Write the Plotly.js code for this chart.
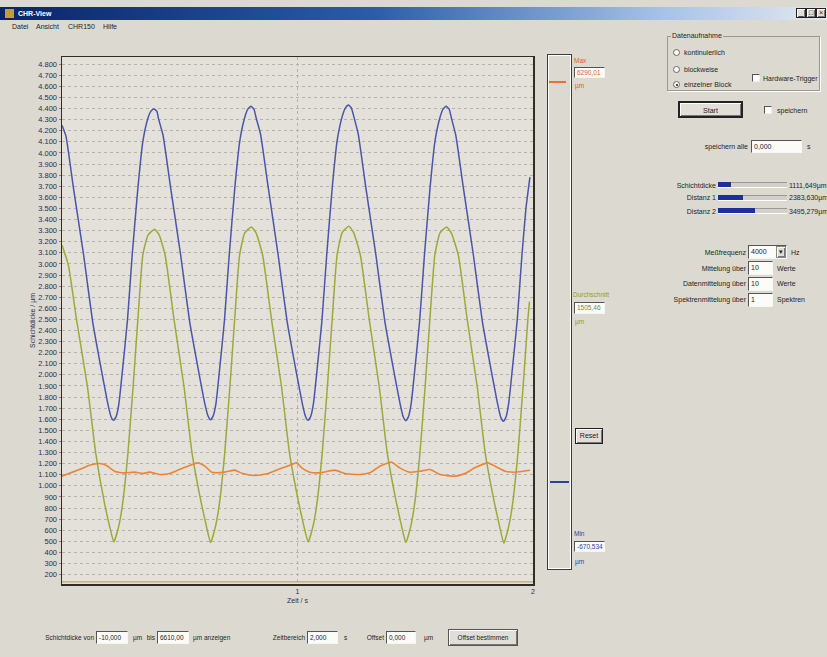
<!DOCTYPE html>
<html><head><meta charset="utf-8">
<script src="https://cdn.plot.ly/plotly-3.0.1.min.js"></script>
<style>
body{margin:0;width:827px;height:657px;overflow:hidden;background:#dcdad0;position:relative;font-family:'Liberation Sans',Arial,sans-serif;}
#chart{position:absolute;left:0;top:0;width:827px;height:657px;}
.ov{position:absolute;font-size:7px;color:#1e1e1e;white-space:nowrap;line-height:1;z-index:5}
.r{text-align:right}
.inp{position:absolute;background:#fbfbf8;border-top:1px solid #555;border-left:1px solid #555;border-right:1px solid #f6f6f6;border-bottom:1px solid #f6f6f6;font-size:7px;line-height:11px;padding-left:2px;box-sizing:border-box;color:#223;z-index:5;white-space:nowrap;overflow:hidden}
.btn{position:absolute;background:#e0ded6;border:1px solid #222;box-shadow:inset 1px 1px #fff,inset -1px -1px #777;font-size:7px;text-align:center;box-sizing:border-box;z-index:5;color:#222}
.rad{position:absolute;width:7px;height:7px;border-radius:50%;background:#fff;border:1px solid #666;box-sizing:border-box;z-index:5}
.chk{position:absolute;width:8px;height:8px;background:#fff;border-top:1px solid #555;border-left:1px solid #555;border-right:1px solid #eee;border-bottom:1px solid #eee;box-sizing:border-box;z-index:5}
.trk{position:absolute;height:6px;background:#d2d0c8;border-top:1px solid #999;border-bottom:1px solid #fff;box-sizing:border-box;z-index:5}
.fill{position:absolute;height:5px;background:#1c2f9c;z-index:6}
.bt{font-size:6.5px}
</style></head>
<body>
<div id="chart"></div>

<!-- title bar and menu -->
<div style="position:absolute;left:0;top:7px;width:827px;height:13px;background:linear-gradient(to right,#0a246a,#2a5ca8 45%,#a6c2e8 80%,#e4e8ef);z-index:4"></div>
<div style="position:absolute;left:5px;top:9px;width:9px;height:9px;background:#c89a3c;z-index:5"></div>
<div class="ov" style="left:18px;top:10px;color:#fff;font-weight:bold">CHR-View</div>
<div class="btn" style="left:796px;top:8px;width:10px;height:10px;line-height:7px">_</div>
<div class="btn" style="left:806px;top:8px;width:10px;height:10px;line-height:8px">□</div>
<div class="btn" style="left:816px;top:8px;width:10px;height:10px;line-height:8px">×</div>
<div class="ov" style="left:12px;top:23px">Datei</div>
<div class="ov" style="left:36px;top:23px">Ansicht</div>
<div class="ov" style="left:68px;top:23px">CHR150</div>
<div class="ov" style="left:103px;top:23px">Hilfe</div>

<!-- vertical indicator -->
<div style="position:absolute;left:547px;top:54px;width:25px;height:516px;border:1px solid #3c3c3c;box-shadow:inset 1px 1px #fff,inset -1px -1px #fff;box-sizing:border-box;z-index:5"></div>
<div style="position:absolute;left:549px;top:81px;width:17px;height:2px;background:#e8702a;z-index:6"></div>
<div style="position:absolute;left:550px;top:481px;width:19px;height:1.5px;background:#3040a0;z-index:6"></div>
<div class="ov" style="left:574px;top:58px;color:#e06020;font-size:6.5px">Max</div>
<div class="inp" style="left:574px;top:67px;width:31px;height:11px;color:#e06020;font-size:6.5px;line-height:9px">6290,01</div>
<div class="ov" style="left:575px;top:83px;color:#e06020;font-size:6.5px">µm</div>
<div class="ov" style="left:573px;top:292px;color:#8aa020;font-size:6.5px">Durchschnitt</div>
<div class="inp" style="left:574px;top:302px;width:31px;height:12px;color:#6a8a50;font-size:6.5px;line-height:10px">1505,46</div>
<div class="ov" style="left:575px;top:319px;color:#8aa020;font-size:6.5px">µm</div>
<div class="btn" style="left:575px;top:428px;width:28px;height:16px;line-height:14px">Reset</div>
<div class="ov" style="left:574px;top:531px;color:#3040a0;font-size:6.5px">Min</div>
<div class="inp" style="left:574px;top:541px;width:31px;height:11px;color:#3040a0;font-size:6.5px;line-height:9px">-670,534</div>
<div class="ov" style="left:575px;top:559px;color:#3040a0;font-size:6.5px">µm</div>

<!-- Datenaufnahme group -->
<div style="position:absolute;left:667px;top:36px;width:153px;height:55px;border:1px solid #9a9890;box-shadow:1px 1px 0 #fff;box-sizing:border-box;z-index:4"></div>
<div class="ov" style="left:671px;top:32px;background:#dcdad0;padding:0 1px">Datenaufnahme</div>
<div class="rad" style="left:673px;top:49px"></div>
<div class="ov" style="left:684px;top:49px">kontinuierlich</div>
<div class="rad" style="left:673px;top:66px"></div>
<div class="ov" style="left:684px;top:66px">blockweise</div>
<div class="rad" style="left:673px;top:81px"><div style="position:absolute;left:1.5px;top:1.5px;width:2px;height:2px;border-radius:50%;background:#111"></div></div>
<div class="ov" style="left:684px;top:81px">einzelner Block</div>
<div class="chk" style="left:752px;top:74px"></div>
<div class="ov" style="left:763px;top:74.5px">Hardware-Trigger</div>

<div class="btn" style="left:678px;top:101px;width:65px;height:17px;line-height:15px;border:2px solid #222">Start</div>
<div class="chk" style="left:764px;top:106px"></div>
<div class="ov" style="left:777px;top:106.5px">speichern</div>
<div class="ov r" style="left:690px;width:58px;top:143px">speichern alle</div>
<div class="inp" style="left:751px;top:140px;width:51px;height:13px">0,000</div>
<div class="ov" style="left:807px;top:143px">s</div>

<!-- progress bars -->
<div class="ov r" style="left:660px;width:56px;top:181.5px">Schichtdicke</div>
<div class="trk" style="left:718px;top:182px;width:69px"></div>
<div class="fill" style="left:718px;top:182px;width:13px"></div>
<div class="ov" style="left:789px;top:181.5px">1111,649µm</div>
<div class="ov r" style="left:660px;width:56px;top:194px">Distanz 1</div>
<div class="trk" style="left:718px;top:194.5px;width:69px"></div>
<div class="fill" style="left:718px;top:194.5px;width:25px"></div>
<div class="ov" style="left:789px;top:194px">2383,630µm</div>
<div class="ov r" style="left:660px;width:56px;top:207.5px">Distanz 2</div>
<div class="trk" style="left:718px;top:208px;width:69px"></div>
<div class="fill" style="left:718px;top:208px;width:37px"></div>
<div class="ov" style="left:789px;top:207.5px">3495,279µm</div>

<!-- settings -->
<div class="ov r" style="left:660px;width:86px;top:248.5px">Meßfrequenz</div>
<div class="inp" style="left:748px;top:245px;width:39px;height:14px;line-height:12px">4000</div>
<div class="btn" style="left:776px;top:246px;width:10px;height:12px;line-height:10px;border:1px solid #888;font-size:7px">▾</div>
<div class="ov" style="left:791px;top:248.5px">Hz</div>
<div class="ov r" style="left:660px;width:86px;top:264.5px">Mittelung über</div>
<div class="inp" style="left:748px;top:261px;width:25px;height:14px;line-height:12px">10</div>
<div class="ov" style="left:777px;top:264.5px">Werte</div>
<div class="ov r" style="left:660px;width:86px;top:280px">Datenmittelung über</div>
<div class="inp" style="left:748px;top:276.5px;width:25px;height:14px;line-height:12px">10</div>
<div class="ov" style="left:777px;top:280px">Werte</div>
<div class="ov r" style="left:640px;width:106px;top:296px">Spektrenmittelung über</div>
<div class="inp" style="left:748px;top:292.5px;width:25px;height:14px;line-height:12px">1</div>
<div class="ov" style="left:777px;top:296px">Spektren</div>

<!-- bottom row -->
<div class="ov r bt" style="left:20px;width:74px;top:635px">Schichtdicke von</div>
<div class="inp" style="left:96px;top:631px;width:32px;height:13px;font-size:6.5px">-10,000</div>
<div class="ov bt" style="left:133px;top:635px">µm</div>
<div class="ov r bt" style="left:140px;width:15px;top:635px">bis</div>
<div class="inp" style="left:157px;top:631px;width:32px;height:13px;font-size:6.5px">6610,00</div>
<div class="ov bt" style="left:193px;top:635px">µm anzeigen</div>
<div class="ov r bt" style="left:255px;width:50px;top:635px">Zeitbereich</div>
<div class="inp" style="left:307px;top:631px;width:31px;height:13px;font-size:6.5px">2,000</div>
<div class="ov bt" style="left:344px;top:635px">s</div>
<div class="ov r bt" style="left:355px;width:29px;top:635px">Offset</div>
<div class="inp" style="left:386px;top:631px;width:30px;height:13px;font-size:6.5px">0,000</div>
<div class="ov bt" style="left:424px;top:635px">µm</div>
<div class="btn" style="left:448px;top:629px;width:70px;height:17px;line-height:15px;border:1px solid #555;font-size:6.5px">Offset bestimmen</div>

<script>
// Zeit / s
const blueT = [0.000,0.017,0.049,0.092,0.130,0.167,0.194,0.208,0.219,0.230,0.242,0.257,0.278,0.298,0.322,0.343,0.364,0.377,0.390,
0.403,0.410,0.429,0.461,0.504,0.542,0.579,0.606,0.620,0.631,0.642,0.654,0.669,0.690,0.710,0.734,0.755,0.776,0.789,0.802,
0.815,0.824,0.843,0.875,0.918,0.956,0.993,1.020,1.034,1.045,1.056,1.068,1.083,1.104,1.124,1.148,1.169,1.190,1.203,1.216,
1.229,1.239,1.258,1.290,1.333,1.371,1.408,1.435,1.449,1.460,1.471,1.483,1.498,1.519,1.539,1.563,1.584,1.605,1.618,1.631,
1.644,1.653,1.672,1.704,1.747,1.785,1.822,1.849,1.863,1.874,1.885,1.897,1.912,1.933,1.953,1.970,1.987];
const blueV = [4250,4150,3678,3078,2479,2045,1746,1625,1590,1625,1746,2045,2494,3078,3678,4100,4307,4375,4397,
4375,4307,4160,3690,3078,2479,2045,1746,1630,1596,1630,1746,2045,2494,3078,3690,4110,4320,4395,4420,
4395,4320,4170,3700,3078,2479,2045,1746,1625,1590,1625,1746,2045,2494,3078,3700,4120,4330,4405,4432,
4405,4330,4170,3690,3078,2479,2045,1746,1622,1587,1622,1746,2045,2494,3078,3690,4110,4320,4395,4420,
4395,4320,4160,3690,3078,2479,2045,1746,1618,1581,1618,1746,2045,2494,3078,3500,3782];

const greenT = [0.000,0.027,0.062,0.108,0.143,0.180,0.202,0.220,0.241,0.258,0.280,0.302,0.322,0.343,0.365,0.393,
0.413,0.438,0.476,0.518,0.552,0.591,0.613,0.631,0.652,0.669,0.691,0.713,0.733,0.754,0.776,0.804,
0.824,0.852,0.890,0.932,0.966,1.005,1.027,1.045,1.066,1.083,1.105,1.127,1.147,1.168,1.190,1.218,
1.238,1.267,1.305,1.347,1.381,1.420,1.442,1.460,1.481,1.498,1.520,1.542,1.562,1.583,1.605,1.633,
1.653,1.683,1.721,1.763,1.797,1.836,1.858,1.876,1.897,1.914,1.936,1.958,1.978,1.985];
const greenV = [3170,2990,2494,1895,1297,848,637,494,637,848,1297,1895,2494,3078,3260,3312,
3260,3078,2494,1895,1297,848,637,488,637,848,1297,1895,2494,3078,3280,3333,
3280,3078,2494,1895,1297,848,637,494,637,848,1297,1895,2494,3078,3285,3339,
3285,3078,2494,1895,1297,848,637,488,637,848,1297,1895,2494,3078,3280,3333,
3280,3078,2494,1895,1297,848,637,482,637,848,1297,1895,2494,2660];

const orangeT = [0.000,0.074,0.117,0.159,0.189,0.223,0.266,0.308,0.342,0.372,0.414,0.457,0.499,0.542,0.576,0.607,0.636,
0.691,0.733,0.767,0.818,0.874,0.925,0.976,0.997,1.018,1.052,1.095,1.158,1.201,1.265,1.307,1.350,1.400,1.434,1.477,1.520,
1.563,1.605,1.669,1.711,1.753,1.809,1.839,1.882,1.924,1.987];
const orangeV = [1087,1146,1186,1201,1183,1132,1117,1123,1111,1123,1102,1111,1147,1183,1207,1177,1123,
1123,1141,1111,1093,1111,1153,1192,1207,1162,1123,1117,1141,1111,1102,1117,1177,1213,1162,1123,1132,
1147,1102,1087,1111,1162,1207,1177,1132,1123,1141];

const xTickVals = [1, 2];
const xTickText = ['1', '2'];

const traces = [
  {x: blueT, y: blueV, mode: 'lines', line: {color: '#4a55aa', width: 1.5, shape: 'spline', smoothing: 0.45}, hoverinfo: 'skip'},
  {x: greenT, y: greenV, mode: 'lines', line: {color: '#9aab3a', width: 1.5, shape: 'spline', smoothing: 0.45}, hoverinfo: 'skip'},
  {x: orangeT, y: orangeV, mode: 'lines', line: {color: '#ec8438', width: 1.6, shape: 'spline', smoothing: 0.5}, hoverinfo: 'skip'}
];

const layout = {
  width: 827, height: 657,
  margin: {l: 62, r: 294, t: 57, b: 73},
  paper_bgcolor: 'rgba(0,0,0,0)',
  plot_bgcolor: '#e3e1d9',
  separators: ',.',
  showlegend: false,
  font: {family: 'Liberation Sans, Arial, sans-serif', size: 7, color: '#2b2b50'},
  xaxis: {
    range: [0, 2], tickvals: xTickVals, ticktext: xTickText,
    showgrid: true, gridcolor: '#b4b2aa', griddash: 'dot', gridwidth: 1,
    zeroline: false, showline: true, mirror: true, linecolor: '#2e2e26', linewidth: 1.5,
    ticks: '', tickfont: {size: 7, color: '#2b2b50'},
    title: {text: 'Zeit / s', font: {size: 7, color: '#2b2b50'}, standoff: 4}
  },
  yaxis: {
    range: [115, 4865], dtick: 100, tick0: 0, tickformat: ',d',
    showgrid: true, gridcolor: '#b4b2aa', griddash: 'dot', gridwidth: 1,
    zeroline: false, showline: true, mirror: true, linecolor: '#2e2e26', linewidth: 1.5,
    ticks: 'outside', ticklen: 2, tickcolor: '#c07040', tickfont: {size: 7.5, color: '#2b2b50'},
    title: {text: 'Schichtdicke / µm', font: {size: 7, color: '#2b2b50'}, standoff: 2}
  },
  shapes: [
    {type: 'line', xref: 'paper', yref: 'paper', x0: 0, x1: 1, y0: 0.004, y1: 0.004, line: {color: '#b89a5a', width: 1}}
  ]
};

Plotly.newPlot('chart', traces, layout, {staticPlot: true, displayModeBar: false});
</script>
</body></html>
